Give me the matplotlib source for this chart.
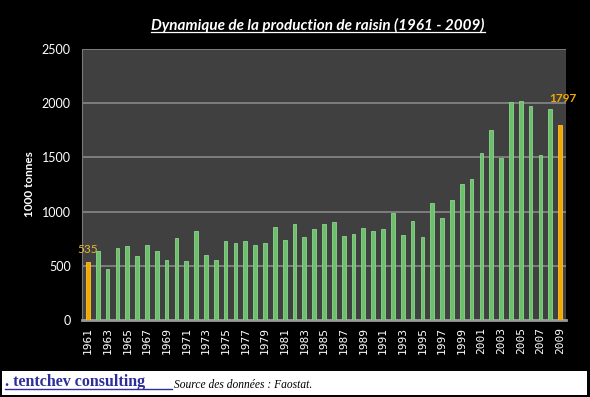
import matplotlib
matplotlib.use("Agg")
import matplotlib.pyplot as plt
from matplotlib.lines import Line2D
from matplotlib.patches import Rectangle

years = list(range(1961, 2010))
values = [535, 636, 475, 660, 685, 586, 691, 636, 549, 753,
          543, 824, 599, 549, 725, 707, 725, 688, 713, 861,
          741, 883, 762, 838, 883, 901, 778, 793, 852, 818,
          842, 984, 784, 913, 762, 1083, 938, 1111, 1259, 1305,
          1537, 1750, 1491, 2009, 2021, 1975, 1524, 1950, 1797]
highlight_years = [1961, 2009]
yticks = [0, 500, 1000, 1500, 2000, 2500]
title = "Dynamique de la production de raisin (1961 - 2009)"
ylabel = "1000 tonnes"
brand = ". tentchev consulting"
source = "Source des données : Faostat."

W, H = 590, 397
fig = plt.figure(figsize=(W / 100, H / 100), dpi=100, facecolor="black")
ax = fig.add_axes([82 / W, 1 - 320 / H, (566 - 82) / W, (320 - 49) / H])
ax.set_facecolor("#404040")

x = list(range(len(years)))
colors = ["#F2A900" if y in highlight_years else "#6CC06C" for y in years]
edges = ["#FFC23A" if y in highlight_years else "#8ED48E" for y in years]
ax.bar(x, values, width=0.38, color=colors, edgecolor=edges, linewidth=0.6, zorder=3)

ax.set_xlim(-0.6, len(years) - 0.4)
ax.set_ylim(0, 2500)
ax.set_yticks(yticks)
ax.set_yticklabels([str(t) for t in yticks], color="white", fontsize=9, family="Lato")
ax.set_xticks(x[::2])
ax.set_xticklabels([str(y) for y in years[::2]], rotation=90, color="white",
                   fontsize=8, family="DejaVu Sans Mono")
ax.tick_params(axis="both", length=0, pad=8)
ax.tick_params(axis="x", pad=5)
ax.grid(axis="y", color="#828282", linewidth=1.3, zorder=1)
for s in ["top", "right"]:
    ax.spines[s].set_visible(False)
ax.spines["left"].set_color("#7a7a7a")
ax.spines["bottom"].set_color("#9a9a9a")
ax.spines["bottom"].set_linewidth(2)

ax.set_ylabel(ylabel, color="white", fontsize=8.5, fontweight="bold", family="Lato", labelpad=5)

# value labels
i0 = years.index(1961)
i1 = years.index(2009)
ax.annotate(str(values[i0]), (x[i0], values[i0]), xytext=(0, 9), textcoords="offset points",
            ha="center", va="center", color="#E8B830", fontsize=8.5, family="Lato", zorder=5)
ax.annotate(str(values[i1]), (x[i1], values[i1]), xytext=(2, 19), textcoords="offset points",
            ha="center", va="center", color="#F2A900", fontsize=8.5, fontweight="bold",
            family="Lato", zorder=5, annotation_clip=False)

# title with underline
t = fig.text(318 / W, 1 - 25 / H, title, color="white", fontsize=11, fontweight="bold",
             style="italic", family="Lato", ha="center", va="center")

# bottom white strip
fig.patches.append(Rectangle((2 / W, 1 - 395 / H), (587 - 2) / W, (395 - 371) / H,
                             transform=fig.transFigure, facecolor="white", edgecolor="none"))
b = fig.text(5 / W, 1 - 386 / H, brand, color="#2E2E9A", fontsize=11.5, fontweight="bold",
             family="Liberation Serif", ha="left", va="baseline")
s = fig.text(174 / W, 1 - 388 / H, source, color="black", fontsize=8.3, style="italic",
             family="Liberation Serif", ha="left", va="baseline")

fig.canvas.draw()
r = fig.canvas.get_renderer()
bb = t.get_window_extent(r)
yl = bb.y0 + 1
fig.add_artist(Line2D([bb.x0 / W, bb.x1 / W], [yl / H, yl / H], transform=fig.transFigure,
                      color="white", linewidth=0.9))
bb2 = b.get_window_extent(r)
yl2 = (H - 388.5)
fig.add_artist(Line2D([bb2.x0 / W, 172 / W], [yl2 / H, yl2 / H], transform=fig.transFigure,
                      color="#2E2E9A", linewidth=1.0))

fig.savefig("out.png", dpi=100, facecolor="black")
